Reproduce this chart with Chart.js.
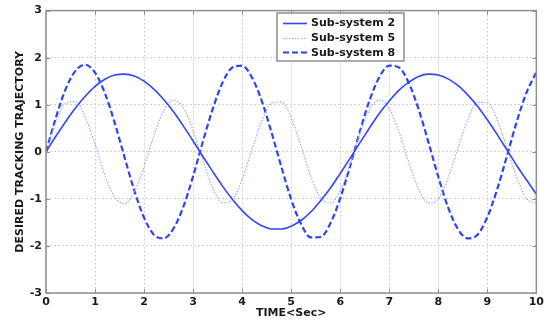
<!DOCTYPE html>
<html>
<head>
<meta charset="utf-8">
<title>Desired tracking trajectory</title>
<script src="https://cdn.jsdelivr.net/npm/chart.js@4"></script>
<style>
    html, body { margin: 0; padding: 0; background: #fff; }
    #wrap { width: 547px; height: 324px; }
</style>
</head>
<body>
<div id="wrap"><canvas id="trajChart"></canvas></div>
<script>
// sample times (sec)
const time = [
    0, 0.2, 0.4, 0.6, 0.8, 1.0, 1.2, 1.4, 1.6, 1.8,
    2.0, 2.2, 2.4, 2.6, 2.8, 3.0, 3.2, 3.4, 3.6, 3.8,
    4.0, 4.2, 4.4, 4.6, 4.8, 5.0, 5.2, 5.4, 5.6, 5.8,
    6.0, 6.2, 6.4, 6.6, 6.8, 7.0, 7.2, 7.4, 7.6, 7.8,
    8.0, 8.2, 8.4, 8.6, 8.8, 9.0, 9.2, 9.4, 9.6, 9.8,
    10.0
];

const subSystem2 = [
    0, 0.33, 0.64, 0.93, 1.18, 1.39, 1.54, 1.63, 1.65, 1.61,
    1.50, 1.33, 1.11, 0.85, 0.55, 0.23, -0.10, -0.42, -0.73, -1.01,
    -1.25, -1.44, -1.57, -1.64, -1.64, -1.58, -1.46, -1.28, -1.04, -0.77,
    -0.46, -0.14, 0.19, 0.51, 0.82, 1.08, 1.31, 1.48, 1.60, 1.65,
    1.63, 1.55, 1.41, 1.21, 0.97, 0.68, 0.37, 0.04, -0.29, -0.60,
    -0.90
];

const subSystem5 = [
    0, 0.62, 1.03, 1.07, 0.74, 0.16, -0.49, -0.96, -1.10, -0.85,
    -0.31, 0.34, 0.87, 1.10, 0.94, 0.45, -0.19, -0.77, -1.08, -1.01,
    -0.59, 0.04, 0.65, 1.04, 1.06, 0.72, 0.12, -0.52, -0.98, -1.09,
    -0.83, -0.27, 0.38, 0.90, 1.10, 0.92, 0.42, -0.23, -0.80, -1.09,
    -1.00, -0.56, 0.07, 0.68, 1.05, 1.05, 0.69, 0.08, -0.55, -0.99,
    -1.09
];

const subSystem8 = [
    0, 0.72, 1.33, 1.72, 1.85, 1.68, 1.25, 0.62, -0.11, -0.82,
    -1.40, -1.76, -1.84, -1.63, -1.17, -0.52, 0.22, 0.91, 1.47, 1.79,
    1.83, 1.58, 1.08, 0.41, -0.32, -1.01, -1.53, -1.82, -1.81, -1.52,
    -0.99, -0.31, 0.43, 1.10, 1.59, 1.83, 1.79, 1.46, 0.90, 0.20,
    -0.53, -1.18, -1.64, -1.84, -1.76, -1.39, -0.80, -0.09, 0.64, 1.26,
    1.69
];

const seriesLabels = ['Sub-system 2', 'Sub-system 5', 'Sub-system 8'];

const font = { family: '"DejaVu Sans", sans-serif', size: 11, weight: 'bold' };
const textColor = '#1a1a1a';
const gridColor = '#d2d2d2';
const frameColor = '#8f8f8f';

const styles = [
    { color: '#3447f0', width: 1.6, dash: [] },
    { color: '#a0a8f5', width: 1.2, dash: [1.5, 1.5] },
    { color: '#2f43f0', width: 2.2, dash: [6, 3] }
];

function toPoints(values) {
    return values.map((v, i) => ({ x: time[i], y: v }));
}

// MATLAB style box around the axes with inward ticks
const axesBox = {
    id: 'axesBox',
    afterDraw(chart) {
        const { ctx, chartArea: a, scales } = chart;
        ctx.save();
        ctx.strokeStyle = frameColor;
        ctx.lineWidth = 1.5;
        ctx.setLineDash([]);
        ctx.strokeRect(a.left, a.top, a.right - a.left, a.bottom - a.top);

        ctx.lineWidth = 1;
        const len = 4;
        ctx.beginPath();
        scales.x.ticks.forEach(t => {
            const px = Math.round(scales.x.getPixelForValue(t.value)) + 0.5;
            ctx.moveTo(px, a.bottom); ctx.lineTo(px, a.bottom - len);
            ctx.moveTo(px, a.top); ctx.lineTo(px, a.top + len);
        });
        scales.y.ticks.forEach(t => {
            const py = Math.round(scales.y.getPixelForValue(t.value)) + 0.5;
            ctx.moveTo(a.left, py); ctx.lineTo(a.left + len, py);
            ctx.moveTo(a.right, py); ctx.lineTo(a.right - len, py);
        });
        ctx.stroke();
        ctx.restore();
    }
};

// boxed legend in the upper middle of the axes
const boxLegend = {
    id: 'boxLegend',
    afterDraw(chart) {
        const { ctx } = chart;
        const x = 277, y = 13, w = 127, h = 48;
        ctx.save();
        ctx.fillStyle = '#fff';
        ctx.fillRect(x, y, w, h);
        ctx.strokeStyle = frameColor;
        ctx.lineWidth = 1.5;
        ctx.setLineDash([]);
        ctx.strokeRect(x, y, w, h);

        ctx.font = `${font.weight} ${font.size}px ${font.family}`;
        ctx.textBaseline = 'middle';
        ctx.textAlign = 'left';
        chart.data.datasets.forEach((ds, i) => {
            const cy = y + 10 + i * 14.7;
            const s = styles[i];
            ctx.strokeStyle = s.color;
            ctx.lineWidth = s.width;
            ctx.setLineDash(s.dash);
            ctx.beginPath();
            ctx.moveTo(283, Math.round(cy) + 0.5);
            ctx.lineTo(307, Math.round(cy) + 0.5);
            ctx.stroke();
            ctx.fillStyle = textColor;
            ctx.fillText(ds.label, 311, cy + 0.5);
        });
        ctx.restore();
    }
};

const datasets = [subSystem2, subSystem5, subSystem8].map((values, i) => ({
    label: seriesLabels[i],
    data: toPoints(values),
    borderColor: styles[i].color,
    borderWidth: styles[i].width,
    borderDash: styles[i].dash,
    pointRadius: 0,
    fill: false,
    cubicInterpolationMode: 'monotone'
}));

const ctx = document.getElementById('trajChart').getContext('2d');
new Chart(ctx, {
    type: 'line',
    data: { datasets },
    options: {
        responsive: true,
        maintainAspectRatio: false,
        animation: false,
        layout: { padding: { top: 10, right: 10, left: 0, bottom: 0 } },
        plugins: {
            legend: { display: false },
            tooltip: { enabled: false }
        },
        scales: {
            x: {
                type: 'linear',
                min: 0,
                max: 10,
                afterFit: s => { s.height = 31; },
                ticks: { stepSize: 1, padding: 3, color: textColor, font, maxRotation: 0 },
                grid: { color: gridColor, drawTicks: false },
                border: { display: false, dash: [2, 2] },
                title: {
                    display: true,
                    text: 'TIME<Sec>',
                    color: textColor,
                    font,
                    padding: { top: 4, bottom: 4 }
                }
            },
            y: {
                min: -3,
                max: 3,
                afterFit: s => { s.width = 46; },
                ticks: { stepSize: 1, padding: 4, color: textColor, font },
                grid: { color: gridColor, drawTicks: false },
                border: { display: false, dash: [2, 2] },
                title: {
                    display: true,
                    text: 'DESIRED TRACKING TRAJECTORY',
                    color: textColor,
                    font,
                    padding: { top: 14, bottom: 14 }
                }
            }
        }
    },
    plugins: [axesBox, boxLegend]
});
</script>
</body>
</html>
